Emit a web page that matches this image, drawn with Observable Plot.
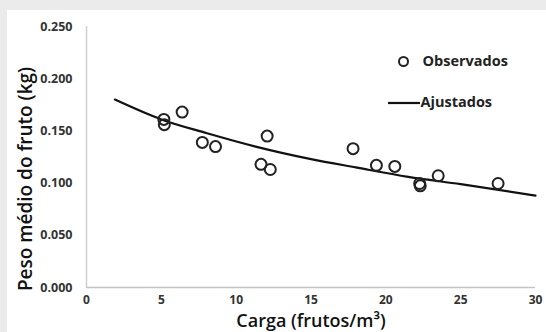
<!DOCTYPE html>
<html>
<head>
<meta charset="utf-8">
<script src="https://cdn.jsdelivr.net/npm/d3@7"></script>
<script src="https://cdn.jsdelivr.net/npm/@observablehq/plot@0.6"></script>
<style>
  html, body { margin: 0; padding: 0; background: #ebebeb; width: 546px; height: 332px; overflow: hidden; }
  #chart { position: absolute; left: 7px; top: 10px; width: 539px; height: 322px; background: #fff; }
  #chart svg { display: block; }
</style>
</head>
<body>
<div id="chart"></div>
<script>
// Observed points
const obsCarga = [5.17, 5.2, 6.39, 7.74, 8.62, 11.66, 12.07, 12.28, 17.81, 19.37, 20.6, 22.26, 22.3, 23.5, 27.5];
const obsPeso  = [0.161, 0.156, 0.168, 0.139, 0.135, 0.118, 0.145, 0.113, 0.133, 0.117, 0.116, 0.0996, 0.0974, 0.107, 0.0996];
// Fitted curve
const fitCarga = [1.9, 5, 8, 11.3, 15, 18, 21.5, 25, 30];
const fitPeso  = [0.180, 0.161, 0.148, 0.135, 0.123, 0.115, 0.106, 0.099, 0.088];
// Ticks
const xTicks = [0, 5, 10, 15, 20, 25, 30];
const yTicks = [0, 0.05, 0.10, 0.15, 0.20, 0.25];
// Texts
const xTitle = "Carga (frutos/m³)";
const yTitle = "Peso médio do fruto (kg)";
const legendObs = "Observados";
const legendFit = "Ajustados";

const observed = obsCarga.map((c, i) => ({carga: c, peso: obsPeso[i]}));
const fitted = fitCarga.map((c, i) => ({carga: c, peso: fitPeso[i]}));

function legendLine(index, scales, values, dims) {
  const x0 = dims.marginLeft + 302, x1 = dims.marginLeft + 334, y = dims.marginTop + 77;
  return d3.create("svg:line")
    .attr("x1", x0).attr("x2", x1).attr("y1", y).attr("y2", y)
    .attr("stroke", "#111").attr("stroke-width", 2.2).node();
}

const plot = Plot.plot({
  width: 539,
  height: 322,
  marginLeft: 79,
  marginRight: 11,
  marginTop: 16,
  marginBottom: 45,
  style: {fontFamily: "'Open Sans', Lato, sans-serif", background: "#fff", overflow: "visible"},
  x: {domain: [0, 30]},
  y: {domain: [0, 0.25]},
  marks: [
    Plot.ruleX([0], {stroke: "#cfcfcf", strokeWidth: 1.5}),
    Plot.ruleY([0], {stroke: "#c4c4c4", strokeWidth: 1.5}),
    Plot.axisX({ticks: xTicks, tickSize: 0, tickPadding: 8, label: null, fontSize: 12, fontWeight: "bold", fill: "#333"}),
    Plot.axisY({ticks: yTicks, tickSize: 0, tickPadding: 14, label: null, tickFormat: d3.format(".3f"), fontSize: 12.5, fontWeight: "bold", fill: "#333"}),
    Plot.line(fitted, {x: "carga", y: "peso", stroke: "#111", strokeWidth: 2.2, curve: "monotone-x"}),
    Plot.dot(observed, {x: "carga", y: "peso", r: 5.5, stroke: "#222", strokeWidth: 2, fill: "none"}),
    // axis titles
    Plot.text([xTitle], {frameAnchor: "bottom", dy: 34, text: d => d, textAnchor: "middle", fontSize: 18, fontWeight: 600, fill: "#111", lineAnchor: "middle"}),
    Plot.text([yTitle], {frameAnchor: "left", dx: -61, dy: 22, rotate: -90, text: d => d, textAnchor: "middle", fontSize: 19, fontWeight: 600, fill: "#111", lineAnchor: "middle"}),
    // legend
    Plot.dot([legendObs], {frameAnchor: "top-left", dx: 317, dy: 35, r: 4.5, stroke: "#222", strokeWidth: 2, fill: "none"}),
    Plot.text([legendObs], {frameAnchor: "top-left", dx: 336, dy: 35, text: d => d, textAnchor: "start", fontSize: 14.5, fontWeight: "bold", fill: "#222", lineAnchor: "middle"}),
    legendLine,
    Plot.text([legendFit], {frameAnchor: "top-left", dx: 334, dy: 76, text: d => d, textAnchor: "start", fontSize: 14.5, fontWeight: "bold", fill: "#222", lineAnchor: "middle"})
  ]
});
document.getElementById("chart").appendChild(plot);
</script>
</body>
</html>
